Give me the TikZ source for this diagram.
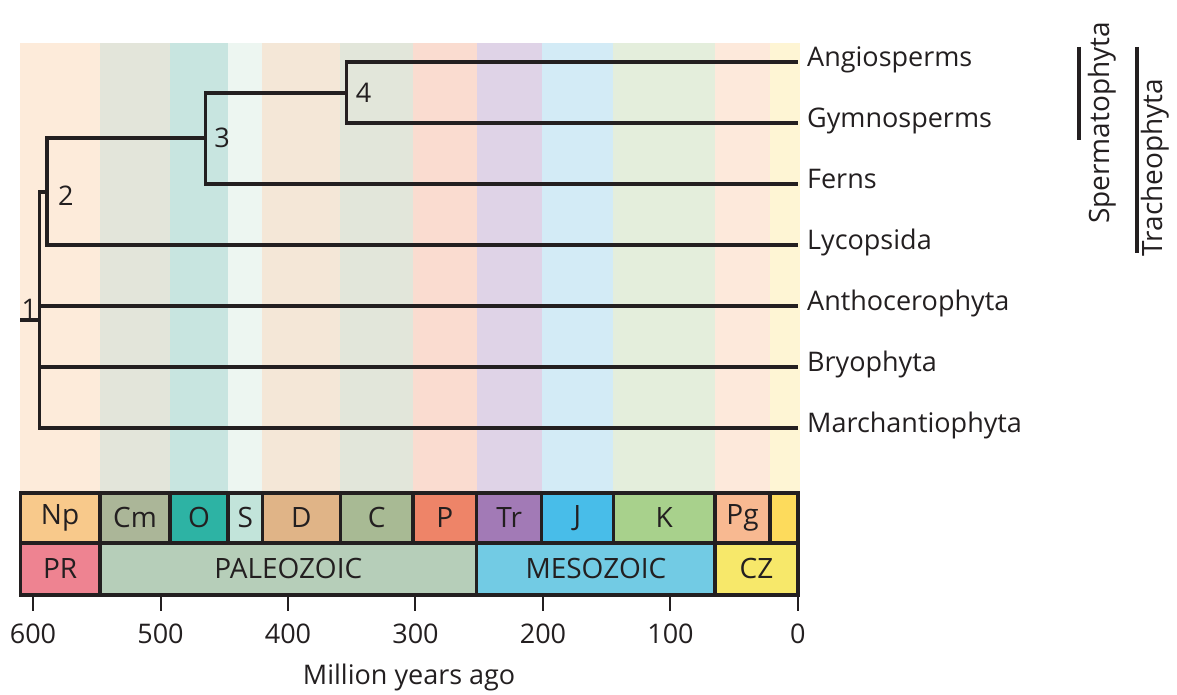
\documentclass[tikz,border=0pt]{standalone}
\usepackage{fontspec}
\setmainfont{Open Sans}
\usepackage{tikz}
\usetikzlibrary{positioning}
\definecolor{ink}{HTML}{231F20}
\definecolor{bNp}{HTML}{FDEBDA}
\definecolor{bCm}{HTML}{E3E5DA}
\definecolor{bO}{HTML}{C8E5E0}
\definecolor{bS}{HTML}{EDF6F1}
\definecolor{bD}{HTML}{F4E7D7}
\definecolor{bC}{HTML}{E2E6DA}
\definecolor{bP}{HTML}{FADCD0}
\definecolor{bTr}{HTML}{DFD3E7}
\definecolor{bJ}{HTML}{D3EBF6}
\definecolor{bK}{HTML}{E4EEDC}
\definecolor{bPg}{HTML}{FDE9DB}
\definecolor{bNg}{HTML}{FEF5D4}
\definecolor{cNp}{HTML}{F8C98B}
\definecolor{cCm}{HTML}{ABB698}
\definecolor{cO}{HTML}{2DB3A4}
\definecolor{cS}{HTML}{C2E4DA}
\definecolor{cD}{HTML}{E0B487}
\definecolor{cC}{HTML}{A8BA94}
\definecolor{cP}{HTML}{EE8468}
\definecolor{cTr}{HTML}{A27AB6}
\definecolor{cJ}{HTML}{48BDE9}
\definecolor{cK}{HTML}{A8D18C}
\definecolor{cPg}{HTML}{F8B991}
\definecolor{cNg}{HTML}{FDDB5C}
\definecolor{cPR}{HTML}{EE8391}
\definecolor{cPZ}{HTML}{B6CEB9}
\definecolor{cMZ}{HTML}{72CBE4}
\definecolor{cCZ}{HTML}{F7E86A}

\begin{document}
\begin{tikzpicture}[x=-1.275pt,y=-1pt,font=\fontsize{27}{31}\selectfont,
  branch/.style={ink,line width=3.2pt},
  cell/.style={draw=ink,line width=3.2pt},
  era/.style={text=ink,font=\fontsize{28}{32}\selectfont},
  taxon/.style={anchor=west,inner sep=9pt,text=ink,text height=0.75em,text depth=0.25em,yshift=-2pt},
  num/.style={inner sep=1pt,text=ink},
  clade/.style={rotate=90,text=ink,font=\fontsize{28}{32}\selectfont},
  bar/.style={ink,line width=4pt}]
\useasboundingbox (625.9,0) rectangle (-297.3,695);
\foreach \a/\b/\c in {610/547.5/bNp,547.5/492.5/bCm,492.5/447/bO,447/420/bS,420/359/bD,359/302/bC,302/252/bP,252/201/bTr,201/145/bJ,145/65/bK,65/22/bPg,22/-1.5/bNg}
  \fill[\c] (\a,43) rectangle (\b,493);
\foreach \a/\b/\c/\lab in {610/547.5/cNp/Np,547.5/492.5/cCm/Cm,492.5/447/cO/O,447/420/cS/S,420/359/cD/D,359/302/cC/C,302/252/cP/P,252/201/cTr/Tr,201/145/cJ/J,145/65/cK/K,65/22/cPg/Pg}{
  \draw[cell,fill=\c] (\a,493) rectangle (\b,543);
  \node[era] (p\lab) at ({(\a+\b)/2},518) {\lab};}
\draw[cell,fill=cNg] (22,493) rectangle (0,543);
\foreach \a/\b/\c/\lab in {610/547.5/cPR/PR,547.5/252/cPZ/PALEOZOIC,252/65/cMZ/MESOZOIC,65/0/cCZ/CZ}{
  \draw[cell,fill=\c] (\a,543) rectangle (\b,595);
  \node[era] (e\lab) at ({(\a+\b)/2},569) {\lab};}
\foreach \t in {600,500,...,0}{
  \draw[ink,line width=2pt] (\t,595)--(\t,611);
  \node[text=ink] (tick\t) at (\t,634) {\t};}
\node[text=ink] (axis) at (305,678) {Million years ago};
\foreach \n/\y/\lab in {angio/62/Angiosperms,gymno/123/Gymnosperms,ferns/184/Ferns,lyco/245/Lycopsida,antho/306/Anthocerophyta,bryo/367/Bryophyta,march/428/Marchantiophyta}{
  \coordinate (t\n) at (0,\y);
  \node[taxon] (\n) at (t\n) {\lab};}
\coordinate (n4) at (354,93);
\coordinate (n3) at (465,138);
\coordinate (n2) at (589,192);
\coordinate (n1) at (595,320);
\coordinate (root) at (610,320);
\draw[branch] (tangio) -| (n4) |- (tgymno);
\draw[branch] (n4) -| (n3) |- (tferns);
\draw[branch] (n3) -| (n2) |- (tlyco);
\draw[branch] (n2) -| (n1) |- (tmarch);
\draw[branch] (root) -- (n1);
\draw[branch] (n1 |- tantho) -- (tantho);
\draw[branch] (n1 |- tbryo) -- (tbryo);
\node[num,right=8pt of n4] (lab4) {4};
\node[num,right=8pt of n3] (lab3) {3};
\node[num,right=10pt of n2,yshift=-4pt] (lab2) {2};
\node[num,above left=0pt and 1pt of n1] (lab1) {1};
\coordinate (sperT) at (-220.4,47);
\coordinate (sperB) at (-220.4,140);
\coordinate (trachT) at (-265.9,47);
\coordinate (trachB) at (-265.9,253);
\draw[bar] (sperT) -- (sperB);
\draw[bar] (trachT) -- (trachB);
\node[clade] (sperm) at (-238.4,123) {Spermatophyta};
\node[clade] (trach) at (-280,167.5) {Tracheophyta};
\end{tikzpicture}
\end{document}
